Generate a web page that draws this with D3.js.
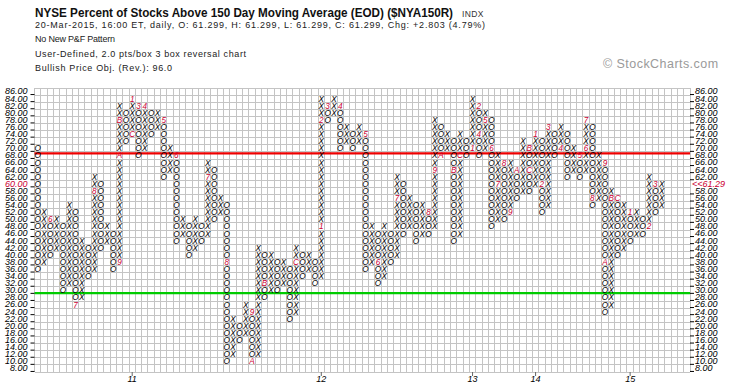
<!DOCTYPE html>
<html><head><meta charset="utf-8">
<script src="https://cdn.jsdelivr.net/npm/d3@7"></script>
<style>
body{margin:0;background:#fff;}
svg text{font-family:"Liberation Sans",Arial,Helvetica,sans-serif;}
</style></head><body>
<svg id="chart" width="745" height="391"></svg>
<script>
// ---- data ----
const colTypes = "OXOXOXOXOXOXOXOXOXOXOXOXOXOXOXOXOXOXOXOXOXOXOXOXOXOXOXOXOXOXOXOXOXOXOXOXOXOXOXOXOXOXOXOXOXOXOXOXOXOX";
const colHigh = [70,52,50,50,48,54,52,44,42,62, 60,48,46,82,80,84,82,82,80,80,
  78,70,68,50,48,50,48,66,64,56, 54,22,20,26,24,42,40,40,38,38,
  36,42,40,40,38,84,82,84,82,76, 74,76,74,48,46,48,46,62,60,56,
  54,54,52,78,76,74,72,74,72,84, 82,80,78,68,66,66,64,72,70,74,
  72,76,74,76,74,70,68,78,76,68, 66,58,56,54,52,52,50,62,60,60];
const colLow = [36,38,40,42,30,32,26,28,34,36, 42,44,36,38,72,74,68,70,74,76,
  62,64,44,46,40,42,44,46,50,52, 10,12,16,18,10,12,28,30,30,32,
  22,24,34,36,32,34,78,80,70,72, 70,72,36,38,32,34,38,40,46,48,
  44,46,46,48,68,70,44,46,68,70, 68,70,48,50,50,52,56,58,58,60,
  52,54,68,70,62,64,62,64,54,56, 24,26,40,42,44,46,46,48,52,54];
const monthCol = [3,7,10,14,14,14,16, 16,17,18,21,23,28,31,35,35,37,42,
  46,46,47,49,53,55,58,63,64,65,67,68, 70,71,71,72,73,74,75,76,77,79,79,
  80,81,82,84,87,88,88,89,91,91,92,93, 95,98,99];
const monthRow = [50,26,58,38,68,78,74, 84,82,82,78,68,62,38,24,10,32,38,
  48,78,82,82,74,38,56,52,64,68,64,68, 70,82,74,78,70,60,66,52,64,70,64,
  74,60,76,70,68,70,78,56,66,38,56,56, 52,48,60];
const monthText = ["6","7","8","9","A","B","C", "1","3","4","5","6","7","8","9","A","B","C",
  "1","2","3","4","5","6","7","8","9","A","B","C", "1","2","4","5","6","7","8","9","A","B","C",
  "1","2","3","4","5","6","7","8","9","A","B","C", "1","2","3"];
const boxLabels = [86,84,82,80,78,76,74,72,70,68,66,64,62,60,58,56,54,52,50,48,46,44,42,40,38,36,34,32,30,28,26,24,22,20,18,16,14,12,10,8];
const yearCol = [16,46,70,80,95];
const yearText = ["11","12","13","14","15"];
const refLines = [68.6, 29.2];
const lastPrice = 61.29;
const lastBox = 60;

// ---- layout ----
const nCols = 104;
const gridLeft = 34.5, colW = 6.303;
const svg = d3.select("#chart");
const cols = d3.range(1, nCols + 1);
const x = d3.scaleBand().domain(cols).range([gridLeft, gridLeft + nCols * colW]);
const y = d3.scaleBand().domain(boxLabels).range([88, 372]);
const gridRight = gridLeft + nCols * colW;
const yLin = d3.scaleLinear().domain([86, 8]).range([y(86) + y.bandwidth() / 2, y(8) + y.bandwidth() / 2]);

// grid
const grid = svg.append("g").attr("shape-rendering", "crispEdges").attr("stroke", "#c4c4c4").attr("stroke-width", 1);
grid.selectAll("line.v").data(cols.concat([nCols + 1])).join("line")
  .attr("x1", d => d <= nCols ? x(d) : gridRight).attr("x2", d => d <= nCols ? x(d) : gridRight)
  .attr("y1", y.range()[0]).attr("y2", y.range()[1]);
grid.selectAll("line.h").data(boxLabels.concat(["bottom"])).join("line")
  .attr("x1", gridLeft).attr("x2", gridRight)
  .attr("y1", d => d === "bottom" ? y.range()[1] : y(d))
  .attr("y2", d => d === "bottom" ? y.range()[1] : y(d));

// reference lines
const refColors = ["#ee0000", "#00cc00"];
svg.append("g").selectAll("line").data(refLines).join("line")
  .attr("x1", gridLeft).attr("x2", gridRight)
  .attr("y1", d => yLin(d)).attr("y2", d => yLin(d))
  .attr("stroke", (d, i) => refColors[i]).attr("stroke-width", 2.2);

// boxes
const labelMap = new Map();
monthCol.forEach((c, i) => labelMap.set(c + "_" + monthRow[i], monthText[i]));
const boxes = [];
colHigh.forEach((hi, i) => {
  const c = i + 1, t = colTypes[i];
  for (let v = colLow[i]; v <= hi; v += 2) {
    const k = c + "_" + v;
    boxes.push({c, v, ch: labelMap.has(k) ? labelMap.get(k) : t, month: labelMap.has(k)});
  }
});
svg.append("g").selectAll("text").data(boxes).join("text")
  .attr("x", d => x(d.c) + x.bandwidth() / 2)
  .attr("y", d => y(d.v) + y.bandwidth() / 2 + 3)
  .attr("text-anchor", "middle")
  .attr("font-size", 8.2).attr("font-style", "italic")
  .attr("fill", d => d.month ? "#cc0033" : "#000")
  .text(d => d.ch);

// axes
const fmt = d => d.toFixed(2);
const leftAxis = svg.append("g").attr("transform", `translate(${gridLeft},0)`)
  .call(d3.axisLeft(y).tickSize(4).tickPadding(3).tickFormat(fmt));
const rightAxis = svg.append("g").attr("transform", `translate(${gridRight},0)`)
  .call(d3.axisRight(y).tickSize(4).tickPadding(1).tickFormat(d => d === lastBox ? "<<" + lastPrice.toFixed(2) : fmt(d)));
const bottomAxis = svg.append("g").attr("transform", `translate(0,${y.range()[1]})`)
  .call(d3.axisBottom(x).tickValues(yearCol).tickSize(4).tickPadding(0).tickFormat((d, i) => yearText[i]));
[leftAxis, rightAxis, bottomAxis].forEach(g => {
  g.select(".domain").remove();
  g.selectAll("text").attr("font-size", 9).attr("font-style", "italic").attr("fill", "#000")
    .attr("font-family", "'Liberation Sans',Arial,sans-serif");
  g.selectAll("line").attr("stroke", "#000");
});
[leftAxis, rightAxis].forEach(g => {
  g.selectAll(".tick line").attr("y1", 3).attr("y2", 3);
});
rightAxis.selectAll(".tick").filter(d => d === lastBox).select("line").remove();
rightAxis.selectAll(".tick").filter(d => d === lastBox).select("text").attr("fill", "#cc0033").attr("x", 2);
leftAxis.selectAll(".tick").filter(d => d === lastBox).select("text").attr("fill", "#cc0033");
bottomAxis.selectAll("line").attr("stroke", "#666");

// header texts
const hdr = svg.append("g").attr("fill", "#111");
hdr.append("text").attr("x", 35).attr("y", 17).attr("font-size", 12).attr("font-weight", "bold")
  .attr("textLength", 418).attr("lengthAdjust", "spacingAndGlyphs")
  .text("NYSE Percent of Stocks Above 150 Day Moving Average (EOD) ($NYA150R)");
hdr.append("text").attr("x", 462).attr("y", 16.5).attr("font-size", 8.5).attr("fill", "#333")
  .attr("letter-spacing", 0.4).text("INDX");
const sub = ["20-Mar-2015, 16:00 ET, daily, O: 61.299, H: 61.299, L: 61.299, C: 61.299, Chg: +2.803 (4.79%)",
  "No New P&F Pattern", "User-Defined, 2.0 pts/box 3 box reversal chart", "Bullish Price Obj. (Rev.): 96.0"];
const subY = [28, 41.5, 56.5, 71];
const subLen = [450, 80, 211, 137];
hdr.selectAll("text.sub").data(sub).join("text").attr("class", "sub")
  .attr("x", 35).attr("y", (d, i) => subY[i]).attr("font-size", 9).attr("fill", "#222")
  .attr("textLength", (d, i) => subLen[i]).attr("lengthAdjust", "spacing").text(d => d);
svg.append("text").attr("x", 603).attr("y", 68).attr("font-size", 12.5).attr("fill", "#9a9a9a")
  .attr("letter-spacing", 0.45).text("\u00A9 StockCharts.com");
</script>
</body></html>
